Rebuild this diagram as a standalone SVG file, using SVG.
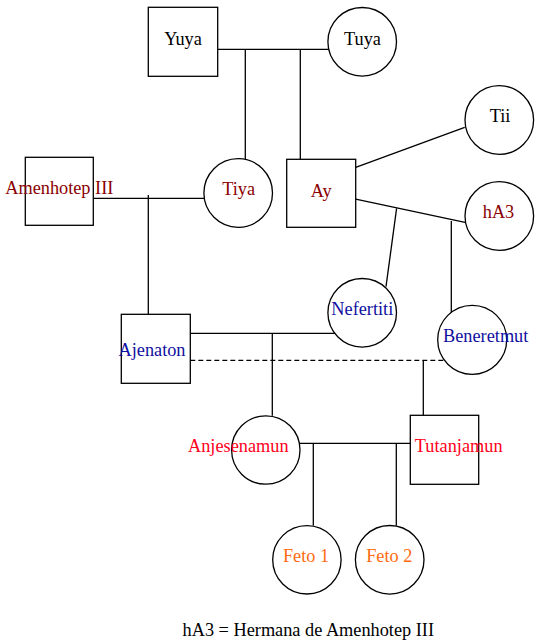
<svg xmlns="http://www.w3.org/2000/svg" width="545" height="644" viewBox="0 0 545 644" font-family="'Liberation Serif', 'Times New Roman', 'DejaVu Serif', serif">
<style>
.n{fill:#fff;stroke:#000;stroke-width:1.3}
.c line{stroke:#000;stroke-width:1.3}
.d{stroke-dasharray:5 3}
text{font-family:'Liberation Serif','Times New Roman',serif;font-size:18.3px;text-anchor:middle}
.k{fill:#000}
.dr{fill:#8b0000}
.bl{fill:#1010a0}
.rd{fill:#ff0020}
.or{fill:#ff6a10}
</style>
<rect width="545" height="644" fill="#fff"/>
<g class="c" id="connectors">
<line x1="217.7" y1="49.3" x2="328.7" y2="49.3"/>
<line x1="245.3" y1="49.3" x2="245.3" y2="159.3"/>
<line x1="300.3" y1="49.3" x2="300.3" y2="159.3"/>
<line x1="355.7" y1="167.3" x2="464.7" y2="127.3"/>
<line x1="355.7" y1="199.2" x2="465" y2="222.3"/>
<line x1="396.6" y1="208.3" x2="386" y2="286.7"/>
<line x1="451.3" y1="221" x2="451.3" y2="314"/>
<line x1="93.3" y1="198.3" x2="204.3" y2="198.3"/>
<line x1="148.3" y1="195" x2="148.3" y2="314.3"/>
<line x1="190.3" y1="333.3" x2="342.7" y2="333.3"/>
<line x1="272.3" y1="333.3" x2="272.3" y2="415.7"/>
<line class="d" x1="190.3" y1="360.3" x2="451.3" y2="360.3"/>
<line x1="423.3" y1="360.3" x2="423.3" y2="415.3"/>
<line x1="300" y1="443.3" x2="410.3" y2="443.3"/>
<line x1="313.3" y1="443.3" x2="313.3" y2="525.7"/>
<line x1="396.3" y1="443.3" x2="396.3" y2="525.7"/>
</g>
<g id="yuya"><rect class="n" x="148.3" y="7.3" width="69.4" height="69"/><text class="k" x="183" y="45">Yuya</text></g>
<g id="tuya"><circle class="n" cx="362.2" cy="41.8" r="34.3"/><text class="k" x="362.5" y="45">Tuya</text></g>
<g id="tii"><circle class="n" cx="499.3" cy="120" r="34.3"/><text class="k" x="500" y="122.3">Tii</text></g>
<g id="amenhotep"><rect class="n" x="25.3" y="157.3" width="68" height="68"/><text class="dr" x="59.3" y="194.3">Amenhotep III</text></g>
<g id="tiya"><circle class="n" cx="238.2" cy="193" r="34.3"/><text class="dr" x="238.7" y="195">Tiya</text></g>
<g id="ay"><rect class="n" x="286.7" y="159.3" width="69" height="68"/><text class="dr" x="321.2" y="196.5">Ay</text></g>
<g id="ha3"><circle class="n" cx="499.3" cy="216" r="34.3"/><text class="dr" x="498.5" y="218.3">hA3</text></g>
<g id="ajenaton"><rect class="n" x="121.3" y="314.3" width="69" height="69"/><text class="bl" x="152" y="355.7">Ajenaton</text></g>
<g id="nefertiti"><circle class="n" cx="362.2" cy="312.8" r="34.3"/><text class="bl" x="362.3" y="315">Nefertiti</text></g>
<g id="beneretmut"><circle class="n" cx="472.2" cy="339.8" r="34.5"/><text class="bl" x="485.7" y="341.7">Beneretmut</text></g>
<g id="anjesenamun"><circle class="n" cx="265.8" cy="450" r="34.2"/><text class="rd" x="238.3" y="451.7">Anjesenamun</text></g>
<g id="tutanjamun"><rect class="n" x="410.3" y="415.3" width="68.4" height="69"/><text class="rd" x="458.7" y="451.7">Tutanjamun</text></g>
<g id="feto1"><circle class="n" cx="306.9" cy="559.8" r="34.2"/><text class="or" x="306" y="561.7">Feto 1</text></g>
<g id="feto2"><circle class="n" cx="389.7" cy="559.8" r="34.3"/><text class="or" x="389.3" y="561.7">Feto 2</text></g>
<text class="k" x="308.3" y="636">hA3 = Hermana de Amenhotep III</text>
</svg>
